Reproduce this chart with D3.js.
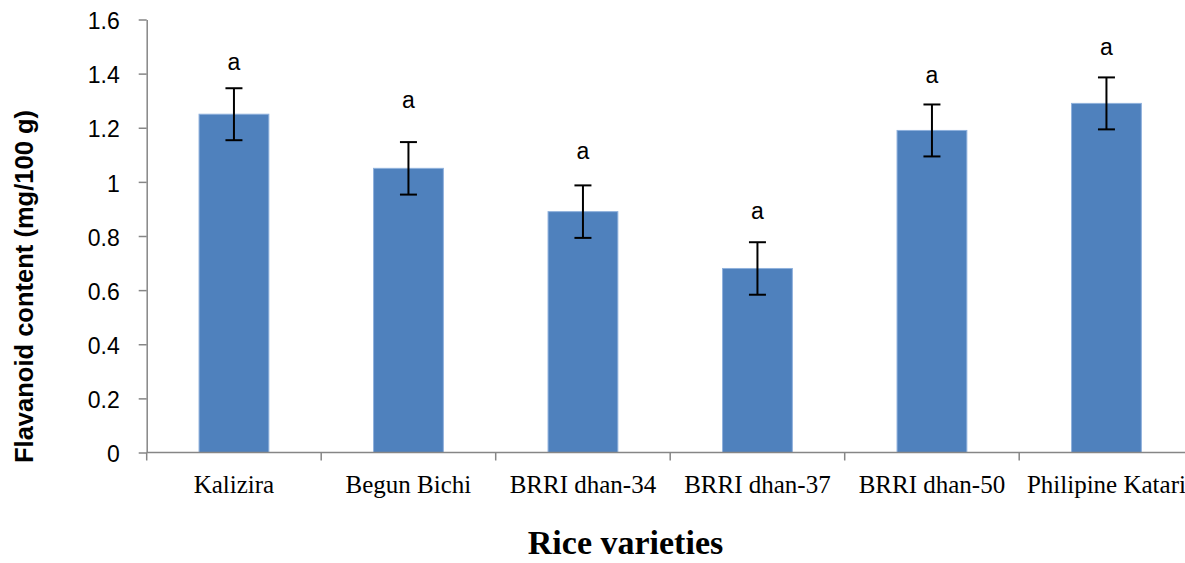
<!DOCTYPE html>
<html>
<head>
<meta charset="utf-8">
<script src="https://cdn.jsdelivr.net/npm/d3@7"></script>
<style>
  html, body { margin: 0; padding: 0; background: #fff; overflow: hidden; }
  svg { display: block; }
</style>
</head>
<body>
<svg id="chart" width="1185" height="563"></svg>
<script>
// Flavonoid content of six rice varieties (mean ± error, letters = significance group)
const varieties = ["Kalizira", "Begun Bichi", "BRRI dhan-34", "BRRI dhan-37", "BRRI dhan-50", "Philipine Katari"];
const flavonoid = [1.25, 1.05, 0.89, 0.68, 1.19, 1.29];
const errors = [0.096, 0.097, 0.097, 0.097, 0.096, 0.096];
const groups = ["a", "a", "a", "a", "a", "a"];
const yTicks = [0, 0.2, 0.4, 0.6, 0.8, 1, 1.2, 1.4, 1.6];
const yTickLabels = ["0", "0.2", "0.4", "0.6", "0.8", "1", "1.2", "1.4", "1.6"];

// layout
const plot = { left: 146.7, right: 1193.7, top: 19.5, bottom: 452.5 };
const letterLift = [18, 34, 26, 23, 21, 22]; // px above each error-bar cap
const barFill = "#4F81BD";
const axisColor = "#868686";

const svg = d3.select("#chart");

const x = d3.scaleBand()
  .domain(varieties)
  .range([plot.left, plot.right])
  .paddingInner(0.6)
  .paddingOuter(0.3);

const y = d3.scaleLinear()
  .domain([0, 1.6])
  .range([plot.bottom, plot.top]);

// bars
svg.append("g")
  .selectAll("rect")
  .data(varieties)
  .join("rect")
  .attr("x", d => x(d))
  .attr("width", x.bandwidth())
  .attr("y", (d, i) => y(flavonoid[i]))
  .attr("height", (d, i) => y(0) - y(flavonoid[i]))
  .attr("fill", barFill)
  .attr("stroke", "#8FB1DC")
  .attr("stroke-width", 1);

// y axis
const yAxis = d3.axisLeft(y)
  .tickValues(yTicks)
  .tickFormat((d, i) => yTickLabels[i])
  .tickSizeInner(8)
  .tickSizeOuter(0)
  .tickPadding(19);
const gy = svg.append("g")
  .attr("transform", `translate(${plot.left},0)`)
  .call(yAxis);
gy.select(".domain").attr("stroke", axisColor).attr("stroke-width", 1.5);
gy.selectAll(".tick line").attr("stroke", axisColor).attr("stroke-width", 1.5);
gy.selectAll(".tick text")
  .attr("fill", "#000")
  .attr("font-family", "'Liberation Sans', Arial, sans-serif")
  .attr("font-size", 23)
  .attr("dy", "0.4em");

// x axis: baseline, boundary ticks between categories, centred labels
const step = x.step();
const halfGap = x.paddingInner() * step / 2;
const boundaries = varieties.map(d => x(d) - halfGap);
boundaries.push(x(varieties[varieties.length - 1]) + x.bandwidth() + halfGap);

const gx = svg.append("g");
gx.append("line")
  .attr("x1", plot.left).attr("x2", 1185)
  .attr("y1", y(0)).attr("y2", y(0))
  .attr("stroke", axisColor).attr("stroke-width", 1.5);
gx.selectAll("line.tick")
  .data(boundaries)
  .join("line")
  .attr("class", "tick")
  .attr("x1", d => d).attr("x2", d => d)
  .attr("y1", y(0)).attr("y2", y(0) + 8)
  .attr("stroke", axisColor).attr("stroke-width", 1.5);
gx.selectAll("text")
  .data(varieties)
  .join("text")
  .attr("x", d => x(d) + x.bandwidth() / 2)
  .attr("y", y(0) + 40)
  .attr("text-anchor", "middle")
  .attr("font-family", "'Liberation Serif', 'Times New Roman', serif")
  .attr("font-size", 25)
  .attr("fill", "#000")
  .text(d => d);

// error bars
const capHalf = 8.5;
const eb = svg.append("g").attr("stroke", "#000").attr("stroke-width", 2);
varieties.forEach((d, i) => {
  const cx = x(d) + x.bandwidth() / 2;
  const hi = y(flavonoid[i] + errors[i]);
  const lo = y(flavonoid[i] - errors[i]);
  eb.append("line").attr("x1", cx).attr("x2", cx).attr("y1", hi).attr("y2", lo);
  eb.append("line").attr("x1", cx - capHalf).attr("x2", cx + capHalf).attr("y1", hi).attr("y2", hi);
  eb.append("line").attr("x1", cx - capHalf).attr("x2", cx + capHalf).attr("y1", lo).attr("y2", lo);
});

// significance letters
svg.append("g")
  .selectAll("text")
  .data(varieties)
  .join("text")
  .attr("x", d => x(d) + x.bandwidth() / 2)
  .attr("y", (d, i) => y(flavonoid[i] + errors[i]) - letterLift[i])
  .attr("text-anchor", "middle")
  .attr("font-family", "'Liberation Sans', Arial, sans-serif")
  .attr("font-size", 23)
  .attr("fill", "#000")
  .text((d, i) => groups[i]);

// axis titles
svg.append("text")
  .attr("transform", "translate(32.5,286.5) rotate(-90)")
  .attr("text-anchor", "middle")
  .attr("font-family", "'Liberation Sans', Arial, sans-serif")
  .attr("font-weight", "bold")
  .attr("font-size", 26)
  .attr("textLength", 353)
  .attr("lengthAdjust", "spacingAndGlyphs")
  .attr("fill", "#000")
  .text("Flavanoid content (mg/100 g)");

svg.append("text")
  .attr("x", 625.5)
  .attr("y", 554)
  .attr("text-anchor", "middle")
  .attr("font-family", "'Liberation Serif', 'Times New Roman', serif")
  .attr("font-weight", "bold")
  .attr("font-size", 34)
  .attr("fill", "#000")
  .text("Rice varieties");
</script>
</body>
</html>
